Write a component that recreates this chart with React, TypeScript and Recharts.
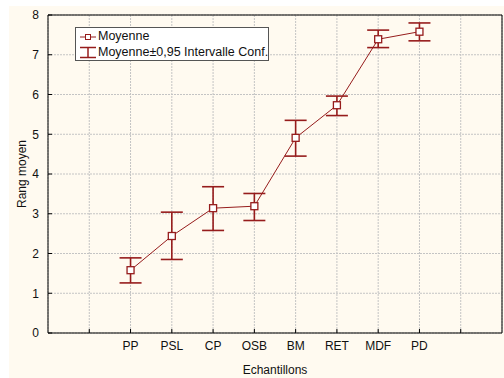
import React from 'react';
import { ComposedChart, Line, XAxis, YAxis, CartesianGrid, ErrorBar, Legend, Label } from 'recharts';

const categories = ['PP', 'PSL', 'CP', 'OSB', 'BM', 'RET', 'MDF', 'PD'];
const means = [1.58, 2.44, 3.14, 3.19, 4.91, 5.73, 7.39, 7.58];
const lower = [1.26, 1.85, 2.58, 2.83, 4.45, 5.47, 7.18, 7.35];
const upper = [1.89, 3.04, 3.68, 3.51, 5.35, 5.96, 7.62, 7.8];
const xTicks = [1, 2, 3, 4, 5, 6, 7, 8, 9, 10];
const yTicks = [0, 1, 2, 3, 4, 5, 6, 7, 8];

const RED = '#961c1c';
const FONT = 'Arial, "Liberation Sans", Helvetica, sans-serif';

const data = categories.map((c, i) => ({
    pos: i + 2,
    name: c,
    mean: means[i],
    ci: [means[i] - lower[i], upper[i] - means[i]],
}));

const tickLabel = (v: number) => {
    const i = v - 2;
    return i >= 0 && i < categories.length ? categories[i] : '';
};

const SquareDot = (props: any) => {
    const { cx, cy, index } = props;
    return (
        <rect key={index} x={cx - 3.5} y={cy - 3.5} width={7} height={7} fill="#fff" stroke={RED} strokeWidth={1.3} />
    );
};

const LegendBox = () => (
    <div
        style={{
            border: '1px solid #555',
            background: '#fff',
            width: 192,
            height: 32,
            fontFamily: FONT,
            fontSize: 12.5,
            color: '#111',
            position: 'relative',
        }}
    >
        <svg width={20} height={34} style={{ position: 'absolute', left: 2, top: 0 }}>
            <line x1={2} y1={9} x2={18} y2={9} stroke={RED} strokeWidth={1} />
            <rect x={7.5} y={6.5} width={5} height={5} fill="#fff" stroke={RED} strokeWidth={1} />
            <line x1={2} y1={19.5} x2={18} y2={19.5} stroke={RED} strokeWidth={1.5} />
            <line x1={2} y1={29.5} x2={18} y2={29.5} stroke={RED} strokeWidth={1.5} />
            <line x1={10} y1={19.5} x2={10} y2={29.5} stroke={RED} strokeWidth={1.5} />
        </svg>
        <div style={{ position: 'absolute', left: 22, top: 1, lineHeight: '14px' }}>Moyenne</div>
        <div style={{ position: 'absolute', left: 22, top: 17, lineHeight: '14px', whiteSpace: 'nowrap' }}>
            Moyenne±0,95 Intervalle Conf.
        </div>
    </div>
);

const YTitle = (props: any) => {
    const { viewBox } = props;
    const cx = 13;
    const cy = viewBox.y + viewBox.height / 2;
    return (
        <text
            x={cx}
            y={cy}
            transform={`rotate(-90, ${cx}, ${cy})`}
            textAnchor="middle"
            dominantBaseline="central"
            fontFamily={FONT}
            fontSize={12}
            fill="#111"
        >
            Rang moyen
        </text>
    );
};

export default function App() {
    return (
        <div style={{ position: 'absolute', left: 9, top: 6, width: 495, height: 372, background: '#fffaf0' }}>
            <ComposedChart width={495} height={372} data={data} margin={{ top: 8, right: 1, left: 0, bottom: 0 }}>
                <CartesianGrid xAxisId="b" yAxisId="l" stroke="#c4c4c4" strokeDasharray="2 1" />
                <XAxis
                    xAxisId="b"
                    dataKey="pos"
                    type="number"
                    domain={[0, 11]}
                    ticks={xTicks}
                    tickFormatter={tickLabel}
                    interval={0}
                    height={45}
                    stroke="#000"
                    tickSize={-4}
                    tickMargin={12}
                    tick={{ fontSize: 12, fill: '#111', fontFamily: FONT }}
                >
                    <Label value="Echantillons" position="insideBottom" offset={4} style={{ fontSize: 12, fill: '#111', fontFamily: FONT }} />
                </XAxis>
                <XAxis
                    xAxisId="t"
                    orientation="top"
                    dataKey="pos"
                    type="number"
                    domain={[0, 11]}
                    ticks={xTicks}
                    height={1}
                    stroke="#000"
                    tick={false}
                    tickSize={-4}
                />
                <YAxis
                    yAxisId="l"
                    domain={[0, 8]}
                    ticks={yTicks}
                    width={39}
                    stroke="#000"
                    tickSize={-4}
                    tickMargin={13}
                    tick={{ fontSize: 12, fill: '#111', fontFamily: FONT }}
                >
                    <Label content={<YTitle />} />
                </YAxis>
                <YAxis
                    yAxisId="r"
                    orientation="right"
                    domain={[0, 8]}
                    ticks={yTicks}
                    width={1}
                    stroke="#000"
                    tick={false}
                    tickSize={-4}
                />
                <Legend
                    verticalAlign="middle"
                    align="center"
                    content={<LegendBox />}
                    wrapperStyle={{ position: 'absolute', left: 66, top: 21, width: 194, height: 34 }}
                />
                <Line
                    xAxisId="b"
                    yAxisId="l"
                    dataKey="mean"
                    stroke={RED}
                    strokeWidth={1}
                    dot={<SquareDot />}
                    isAnimationActive={false}
                >
                    <ErrorBar dataKey="ci" width={11} stroke={RED} strokeWidth={1.6} direction="y" />
                </Line>
            </ComposedChart>
        </div>
    );
}
